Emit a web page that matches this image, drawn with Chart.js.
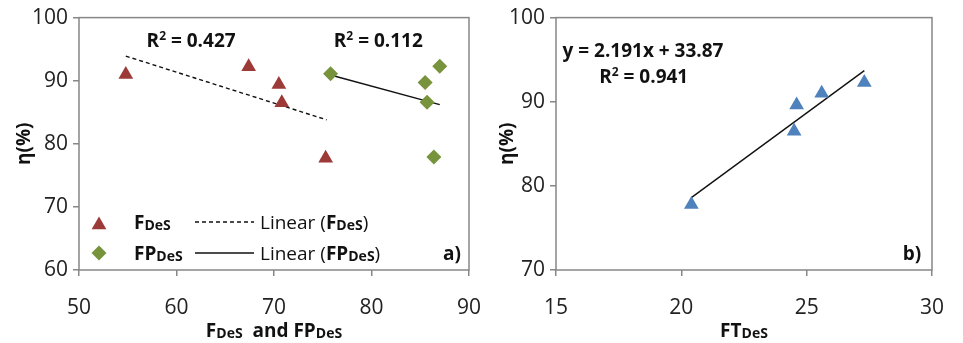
<!DOCTYPE html>
<html>
<head>
<meta charset="utf-8">
<script src="https://cdn.jsdelivr.net/npm/chart.js@4"></script>
<style>
  body { margin: 0; background: #fff; }
  #wrap { position: relative; width: 963px; height: 343px; overflow: hidden; }
  canvas { position: absolute; top: 0; }
</style>
</head>
<body>
<div id="wrap">
  <canvas id="chartA" width="500" height="343" style="left:0"></canvas>
  <canvas id="chartB" width="483" height="343" style="left:480px"></canvas>
</div>
<script>
// Data
const fdesX = [54.8, 67.4, 70.5, 70.8, 75.3];
const fdesY = [91.0, 92.2, 89.4, 86.5, 77.7];
const fpdesX = [75.8, 85.5, 85.7, 86.4, 87.0];
const fpdesY = [91.1, 89.7, 86.6, 77.9, 92.3];
const fdesTrendX = [54.8, 75.4];
const fdesTrendY = [93.9, 83.8];
const fpdesTrendX = [75.8, 87.0];
const fpdesTrendY = [90.9, 86.2];

const ftdesX = [20.4, 24.5, 24.6, 25.6, 27.3];
const ftdesY = [77.8, 86.5, 89.6, 91.0, 92.3];
const ftTrendX = [20.4, 27.3];
const ftTrendY = [78.6, 93.7];

const axisA = { xMin: 50, xMax: 90, xStep: 10, yMin: 60, yMax: 100, yStep: 10 };
const axisB = { xMin: 15, xMax: 30, xStep: 5, yMin: 70, yMax: 100, yStep: 10 };

const RED = '#9B3A37';
const GREEN = '#77933C';
const BLUE = '#4F81BD';
const AXIS = '#878787';
const FONT = '"Open Sans", sans-serif';

const pts = (xs, ys) => xs.map((x, i) => ({ x: x, y: ys[i] }));

// draw a row of text runs (bold / size / vertical shift)
function drawRuns(ctx, runs, x, y, align) {
  let w = 0;
  runs.forEach(r => {
    ctx.font = (r.bold ? 'bold ' : '') + r.size + 'px ' + FONT;
    w += ctx.measureText(r.t).width;
  });
  let cx = align === 'center' ? x - w / 2 : x;
  ctx.textAlign = 'left';
  ctx.textBaseline = 'alphabetic';
  runs.forEach(r => {
    ctx.font = (r.bold ? 'bold ' : '') + r.size + 'px ' + FONT;
    ctx.fillText(r.t, cx, y + (r.dy || 0));
    cx += ctx.measureText(r.t).width;
  });
}

const B = (t, size, dy) => ({ t: t, bold: true, size: size || 19, dy: dy || 0 });
const N = (t, size, dy) => ({ t: t, bold: false, size: size || 19, dy: dy || 0 });
const sub = t => B(t, 14, 1);

function triangle(ctx, x, y, r, color) {
  ctx.fillStyle = color;
  ctx.beginPath();
  ctx.moveTo(x, y - r);
  ctx.lineTo(x + r * 0.866, y + r / 2);
  ctx.lineTo(x - r * 0.866, y + r / 2);
  ctx.closePath();
  ctx.fill();
}
function diamond(ctx, x, y, r, color) {
  ctx.fillStyle = color;
  ctx.beginPath();
  ctx.moveTo(x, y - r);
  ctx.lineTo(x + r, y);
  ctx.lineTo(x, y + r);
  ctx.lineTo(x - r, y);
  ctx.closePath();
  ctx.fill();
}

function frameAndTitles(xTitle, yTitleX) {
  return {
    id: 'frame',
    beforeDatasetsDraw(chart) {
      const { ctx, chartArea: a } = chart;
      ctx.save();
      ctx.strokeStyle = AXIS;
      ctx.lineWidth = 1.5;
      ctx.strokeRect(a.left, a.top, a.right - a.left, a.bottom - a.top);
      ctx.restore();
    },
    afterDraw(chart) {
      const { ctx, chartArea: a } = chart;
      ctx.save();
      ctx.fillStyle = '#111';
      // y title
      ctx.translate(yTitleX, (a.top + a.bottom) / 2);
      ctx.rotate(-Math.PI / 2);
      drawRuns(ctx, [B('η(%)')], 0, 6, 'center');
      ctx.restore();
      ctx.save();
      ctx.fillStyle = '#111';
      drawRuns(ctx, xTitle, (a.left + a.right) / 2, 337, 'center');
      ctx.restore();
    }
  };
}

function scaleOpts(ax, yWidth) {
  const grid = { drawOnChartArea: false, drawTicks: true, tickLength: 6, color: AXIS, lineWidth: 1.5 };
  return {
    x: {
      type: 'linear', min: ax.xMin, max: ax.xMax,
      ticks: { stepSize: ax.xStep, padding: 19, color: '#222', font: { family: FONT, size: 21 } },
      grid: grid, border: { display: false },
      afterFit: s => { s.height = 73; }
    },
    y: {
      type: 'linear', min: ax.yMin, max: ax.yMax,
      ticks: { stepSize: ax.yStep, padding: 5, color: '#222', font: { family: FONT, size: 21 } },
      grid: grid, border: { display: false },
      afterFit: s => { s.width = yWidth; }
    }
  };
}

// Chart a)
const notesA = {
  id: 'notesA',
  afterDraw(chart) {
    const { ctx, chartArea: a, scales: { x, y } } = chart;
    ctx.save();
    ctx.fillStyle = '#111';
    drawRuns(ctx, [B('R'), B('2', 12, -7), B(' = 0.427')], x.getPixelForValue(61.5), y.getPixelForValue(96.5) + 7, 'center');
    drawRuns(ctx, [B('R'), B('2', 12, -7), B(' = 0.112')], x.getPixelForValue(80.7), y.getPixelForValue(96.5) + 7, 'center');

    // legend
    const r1 = 222, r2 = 253;
    triangle(ctx, a.left + 20, r1 + 3, 8.5, RED);
    diamond(ctx, a.left + 20, r2, 7.5, GREEN);
    ctx.fillStyle = '#111';
    drawRuns(ctx, [B('F'), sub('DeS')], a.left + 55, r1 + 7);
    drawRuns(ctx, [B('FP'), sub('DeS')], a.left + 55, r2 + 7);
    ctx.strokeStyle = '#111';
    ctx.lineWidth = 1.4;
    ctx.setLineDash([4, 3]);
    ctx.beginPath(); ctx.moveTo(a.left + 116, r1); ctx.lineTo(a.left + 175, r1); ctx.stroke();
    ctx.setLineDash([]);
    ctx.beginPath(); ctx.moveTo(a.left + 116, r2); ctx.lineTo(a.left + 175, r2); ctx.stroke();
    drawRuns(ctx, [N('Linear ('), B('F'), sub('DeS'), N(')')], a.left + 181, r1 + 7);
    drawRuns(ctx, [N('Linear ('), B('FP'), sub('DeS'), N(')')], a.left + 181, r2 + 7);
    drawRuns(ctx, [B('a)')], a.right - 17, r2 + 7, 'center');
    ctx.restore();
  }
};

new Chart(document.getElementById('chartA'), {
  type: 'scatter',
  data: {
    datasets: [
      { label: 'FDeS', data: pts(fdesX, fdesY), pointStyle: 'triangle', pointRadius: 8.5, backgroundColor: RED, borderWidth: 0 },
      { label: 'FPDeS', data: pts(fpdesX, fpdesY), pointStyle: 'rectRot', pointRadius: 7.5, backgroundColor: GREEN, borderWidth: 0 },
      { label: 'Linear (FDeS)', data: pts(fdesTrendX, fdesTrendY), showLine: true, pointRadius: 0, borderColor: '#111', borderWidth: 1.4, borderDash: [4, 3] },
      { label: 'Linear (FPDeS)', data: pts(fpdesTrendX, fpdesTrendY), showLine: true, pointRadius: 0, borderColor: '#111', borderWidth: 1.4 }
    ]
  },
  options: {
    responsive: false,
    animation: false,
    layout: { padding: { top: 17, right: 28, left: 0, bottom: 0 } },
    plugins: { legend: { display: false }, tooltip: { enabled: false } },
    scales: scaleOpts(axisA, 79)
  },
  plugins: [frameAndTitles([B('F'), sub('DeS'), B('  and FP'), sub('DeS')], 24), notesA]
});

// Chart b)
const notesB = {
  id: 'notesB',
  afterDraw(chart) {
    const { ctx, chartArea: a, scales: { x, y } } = chart;
    ctx.save();
    ctx.fillStyle = '#111';
    drawRuns(ctx, [B('y = 2.191x + 33.87')], x.getPixelForValue(18.47), y.getPixelForValue(96.2) + 7, 'center');
    drawRuns(ctx, [B('R'), B('2', 12, -7), B(' = 0.941')], x.getPixelForValue(18.5), y.getPixelForValue(93.0) + 7, 'center');
    drawRuns(ctx, [B('b)')], a.right - 20, 260, 'center');
    ctx.restore();
  }
};

new Chart(document.getElementById('chartB'), {
  type: 'scatter',
  data: {
    datasets: [
      { label: 'FTDeS', data: pts(ftdesX, ftdesY), pointStyle: 'triangle', pointRadius: 8.5, backgroundColor: BLUE, borderWidth: 0 },
      { label: 'Linear (FTDeS)', data: pts(ftTrendX, ftTrendY), showLine: true, pointRadius: 0, borderColor: '#111', borderWidth: 1.4 }
    ]
  },
  options: {
    responsive: false,
    animation: false,
    layout: { padding: { top: 17, right: 15, left: 0, bottom: 0 } },
    plugins: { legend: { display: false }, tooltip: { enabled: false } },
    scales: scaleOpts(axisB, 76)
  },
  plugins: [frameAndTitles([B('FT'), sub('DeS')], 27), notesB]
});
</script>
</body>
</html>
